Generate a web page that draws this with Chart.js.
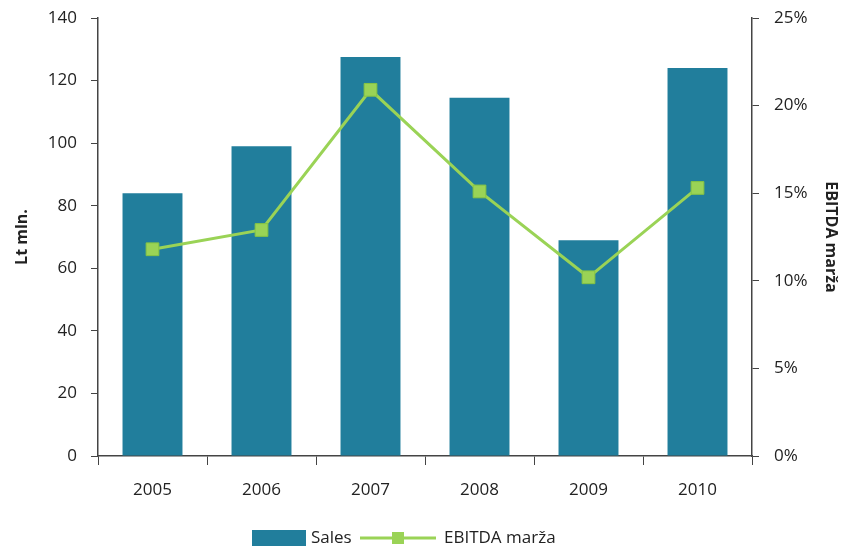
<!DOCTYPE html>
<html>
<head>
<meta charset="utf-8">
<script src="https://cdn.jsdelivr.net/npm/chart.js@4.4.0/dist/chart.umd.min.js"></script>
<style>
  html, body { margin: 0; padding: 0; background: #fff; }
  #wrap { width: 847px; height: 551px; }
</style>
</head>
<body>
<div id="wrap"><canvas id="chart" width="847" height="551"></canvas></div>
<script>
  // Data
  const years = ['2005', '2006', '2007', '2008', '2009', '2010'];
  const sales = [84, 99, 127.5, 114.5, 69, 124];          // Lt mln.
  const ebitdaMargin = [11.8, 12.9, 20.9, 15.1, 10.2, 15.3]; // %
  const salesTicks = [0, 20, 40, 60, 80, 100, 120, 140];
  const marginTicks = [0, 5, 10, 15, 20, 25];

  const barColor = '#217e9c';
  const lineColor = '#9ad356';
  const axisColor = '#444';
  const font = "'Open Sans', 'Liberation Sans', sans-serif";

  // Custom legend: wide box for Sales, line with a square marker for the margin
  const bottomLegend = {
    id: 'bottomLegend',
    afterDraw(chart) {
      const ctx = chart.ctx;
      const y = 538;
      ctx.save();
      ctx.font = '17px ' + font;
      ctx.textBaseline = 'middle';
      ctx.fillStyle = barColor;
      ctx.fillRect(252, y - 8, 54, 16);
      ctx.fillStyle = '#222';
      ctx.fillText('Sales', 311, y);
      ctx.strokeStyle = lineColor;
      ctx.lineWidth = 3;
      ctx.beginPath();
      ctx.moveTo(360, y);
      ctx.lineTo(436, y);
      ctx.stroke();
      ctx.fillStyle = lineColor;
      ctx.fillRect(392, y - 6, 12, 12);
      ctx.fillStyle = '#222';
      ctx.fillText('EBITDA marža', 444, y);
      ctx.restore();
    }
  };

  new Chart(document.getElementById('chart'), {
    data: {
      labels: years,
      datasets: [
        {
          type: 'line',
          label: 'EBITDA marža',
          data: ebitdaMargin,
          yAxisID: 'y1',
          borderColor: lineColor,
          backgroundColor: lineColor,
          borderWidth: 3,
          tension: 0,
          pointStyle: 'rect',
          pointRadius: 9,
          pointBackgroundColor: lineColor,
          pointBorderColor: '#86c443',
          pointBorderWidth: 1,
          order: 0
        },
        {
          type: 'bar',
          label: 'Sales',
          data: sales,
          yAxisID: 'y',
          backgroundColor: barColor,
          categoryPercentage: 0.55,
          barPercentage: 1,
          order: 1
        }
      ]
    },
    options: {
      responsive: false,
      animation: false,
      layout: { padding: { top: 18, bottom: 0 } },
      plugins: {
        legend: { display: false },
        tooltip: { enabled: false }
      },
      scales: {
        x: {
          grid: { display: true, drawOnChartArea: false, drawTicks: true, tickLength: 9, color: axisColor, offset: true },
          border: { color: axisColor, width: 1.5 },
          ticks: { color: '#222', font: { family: font, size: 17 }, padding: 15 },
          afterFit(scale) { scale.height = 95; }
        },
        y: {
          position: 'left',
          min: 0,
          max: 140,
          afterBuildTicks(scale) { scale.ticks = salesTicks.map(v => ({ value: v })); },
          grid: { display: true, drawOnChartArea: false, drawTicks: true, tickLength: 7, color: axisColor },
          border: { color: axisColor, width: 1.5 },
          ticks: { color: '#222', font: { family: font, size: 17 }, padding: 14 },
          title: { display: true, text: 'Lt mln.', color: '#222', padding: { top: 13, bottom: 0 }, font: { family: font, size: 16, weight: 'bold' } },
          afterFit(scale) { scale.width = 98; scale.paddingTop = 0; scale.paddingBottom = 0; }
        },
        y1: {
          position: 'right',
          min: 0,
          max: 25,
          afterBuildTicks(scale) { scale.ticks = marginTicks.map(v => ({ value: v })); },
          grid: { display: true, drawOnChartArea: false, drawTicks: true, tickLength: 7, color: axisColor },
          border: { color: axisColor, width: 1.5 },
          ticks: { color: '#222', font: { family: font, size: 17 }, padding: 15, callback: v => v + '%' },
          title: { display: true, text: 'EBITDA marža', color: '#222', padding: { top: 7, bottom: 0 }, font: { family: font, size: 16, weight: 'bold' } },
          afterFit(scale) { scale.width = 95; scale.paddingTop = 0; scale.paddingBottom = 0; }
        }
      }
    },
    plugins: [bottomLegend]
  });
</script>
</body>
</html>
